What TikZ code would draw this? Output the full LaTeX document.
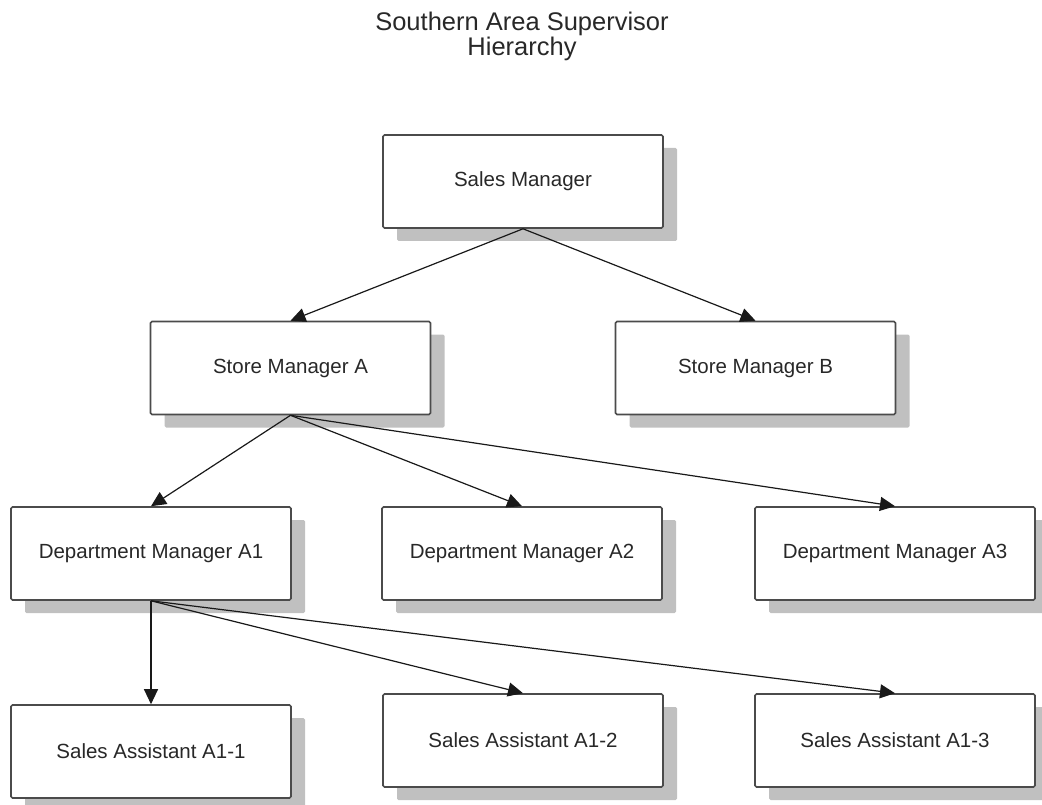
\documentclass[tikz,border=0pt]{standalone}
\usepackage{fontspec}
\setmainfont{Liberation Sans}
\usetikzlibrary{arrows.meta,shadows}
\definecolor{inkgray}{RGB}{40,40,40}
\definecolor{framegray}{RGB}{75,75,75}
\definecolor{shadegray}{RGB}{192,192,192}
\definecolor{wiregray}{RGB}{25,25,25}
\begin{document}
\begin{tikzpicture}[x=1pt,y=-1pt,
  orgbox/.style={draw=framegray, line width=1.6pt, fill=white,
    minimum width=280pt, minimum height=93pt, inner sep=0pt,
    rounded corners=1.5pt, text=inkgray,
    font=\fontsize{20.5}{24}\selectfont,
    drop shadow={shadow xshift=14pt, shadow yshift=-13pt,
      fill=shadegray, opacity=1, draw=none}},
  titletext/.style={text=inkgray, font=\fontsize{25.5}{29}\selectfont,
    inner sep=0pt, anchor=base},
  link/.style={draw=wiregray, line width=1.2pt,
    -{Triangle[length=15pt,width=14pt]}}]
\useasboundingbox (0,0) rectangle (1042,805);

% heading
\node[titletext] (title1) at (522,30.5) {Southern Area Supervisor};
\node[titletext] (title2) at (522,56) {Hierarchy};

% boxes
\node[orgbox] (sm) at (523,181.5) {Sales Manager};
\node[orgbox] (sa) at (290.5,368) {Store Manager A};
\node[orgbox] (sb) at (755.5,368) {Store Manager B};
\node[orgbox] (d1) at (151,553.5) {Department Manager A1};
\node[orgbox] (d2) at (522,553.5) {Department Manager A2};
\node[orgbox] (d3) at (895,553.5) {Department Manager A3};
\node[orgbox] (a1) at (151,751.5) {Sales Assistant A1-1};
\node[orgbox] (a2) at (523,740.5) {Sales Assistant A1-2};
\node[orgbox] (a3) at (895,740.5) {Sales Assistant A1-3};

% reporting lines
\draw[link] (sm.south) -- (sa.north);
\draw[link] (sm.south) -- (sb.north);
\draw[link] (sa.south) -- (d1.north);
\draw[link] (sa.south) -- (d2.north);
\draw[link] (sa.south) -- (d3.north);
\draw[link] (d1.south) -- (a1.north);
\draw[link] (d1.south) -- (a2.north);
\draw[link] (d1.south) -- (a3.north);
\end{tikzpicture}
\end{document}
